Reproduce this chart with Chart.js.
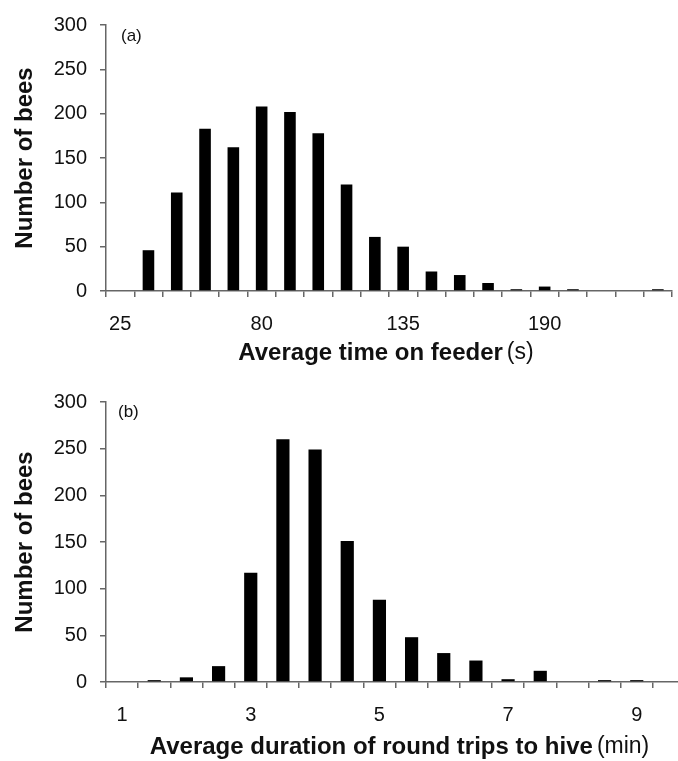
<!DOCTYPE html>
<html>
<head>
<meta charset="utf-8">
<script src="https://cdn.jsdelivr.net/npm/chart.js@4"></script>
<style>
  html, body { margin: 0; padding: 0; background: #fff; overflow: hidden; width: 678px; height: 761px; }
  #wrapA { position: absolute; left: 0; top: 0; width: 678px; height: 370px; }
  #wrapB { position: absolute; left: 0; top: 370px; width: 692px; height: 391px; }
</style>
</head>
<body>
<div id="wrapA"><canvas id="chartA" width="678" height="370"></canvas></div>
<div id="wrapB"><canvas id="chartB" width="692" height="391"></canvas></div>
<script>
// panel (a): average time on feeder, bins of 11 s
const feederBins = ['25', '36', '47', '58', '69', '80', '91', '102', '113', '124',
                    '135', '146', '157', '168', '179', '190', '201', '212', '223', '234'];
const feederBees = [0, 46, 111, 183, 162, 208, 202, 178, 120, 61,
                    50, 22, 18, 9, 2, 5, 2, 0, 0, 2];

// panel (b): average duration of round trips, bins of 0.5 min
const tripBins = ['1', '1.5', '2', '2.5', '3', '3.5', '4', '4.5', '5', '5.5',
                  '6', '6.5', '7', '7.5', '8', '8.5', '9', '9.5'];
const tripBees = [0, 2, 5, 17, 117, 260, 249, 151, 88, 48,
                  31, 23, 3, 12, 0, 2, 2, 0];

const yTicks = [0, 50, 100, 150, 200, 250, 300];

const FONT = '"Liberation Sans", Arial, sans-serif';
const AXIS = '#666';
const INK = '#111';

// draws the x-axis title (bold part + normal unit) and the panel letter
const labelsPlugin = {
    id: 'panelLabels',
    afterDraw(chart, args, opts) {
        const ctx = chart.ctx;
        const area = chart.chartArea;
        ctx.save();
        ctx.fillStyle = INK;
        ctx.textBaseline = 'middle';

        ctx.font = 'bold 24px ' + FONT;
        const wBold = ctx.measureText(opts.bold).width;
        ctx.font = '23px ' + FONT;
        const wNorm = ctx.measureText(opts.unit).width;
        const gap = 4;
        let x = (area.left + area.right) / 2 + opts.shift - (wBold + gap + wNorm) / 2;
        ctx.textAlign = 'left';
        ctx.font = 'bold 24px ' + FONT;
        ctx.fillText(opts.bold, x, opts.titleY);
        ctx.font = '23px ' + FONT;
        ctx.fillText(opts.unit, x + wBold + gap, opts.titleY);

        ctx.font = '17px ' + FONT;
        ctx.fillText(opts.letter, area.left + opts.letterDx, area.top + opts.letterDy);
        ctx.restore();
    }
};

function makeChart(id, labels, values, labelStep, padTop, padRight, opts) {
    const ctx = document.getElementById(id).getContext('2d');
    return new Chart(ctx, {
        type: 'bar',
        data: {
            labels: labels,
            datasets: [{
                data: values,
                backgroundColor: '#000',
                borderWidth: 0,
                barPercentage: 1,
                categoryPercentage: 0.41
            }]
        },
        options: {
            responsive: false,
            animation: false,
            devicePixelRatio: 1,
            layout: { padding: { top: padTop, right: padRight, left: 0, bottom: 0 } },
            plugins: {
                legend: { display: false },
                tooltip: { enabled: false },
                panelLabels: opts
            },
            scales: {
                x: {
                    grid: { offset: true, drawOnChartArea: false, drawTicks: true, tickLength: 6, color: AXIS, lineWidth: 1.5 },
                    border: { color: AXIS, width: 1.5 },
                    ticks: {
                        autoSkip: false,
                        maxRotation: 0,
                        padding: 15,
                        color: INK,
                        font: { family: FONT, size: 20 },
                        callback: function (val, i) { return i % labelStep === 0 ? labels[i] : ''; }
                    },
                    afterFit: function (scale) { scale.height = 79; }
                },
                y: {
                    min: 0,
                    max: 300,
                    afterBuildTicks: function (scale) { scale.ticks = yTicks.map(v => ({ value: v })); },
                    grid: { drawOnChartArea: false, drawTicks: true, tickLength: 6, color: AXIS, lineWidth: 1.5 },
                    border: { color: AXIS, width: 1.5 },
                    ticks: {
                        padding: 13,
                        color: INK,
                        font: { family: FONT, size: 20 }
                    },
                    title: {
                        display: true,
                        text: 'Number of bees',
                        color: INK,
                        font: { family: FONT, size: 24, weight: 'bold' },
                        padding: { top: 11, bottom: 0 }
                    },
                    afterFit: function (scale) { scale.width = 106; }
                }
            }
        },
        plugins: [labelsPlugin]
    });
}

makeChart('chartA', feederBins, feederBees, 5, 19, 6, {
    bold: 'Average time on feeder', unit: '(s)', shift: -3, titleY: 353,
    letter: '(a)', letterDx: 15, letterDy: 11
});

makeChart('chartB', tripBins, tripBees, 4, 32, 7, {
    bold: 'Average duration of round trips to hive', unit: '(min)', shift: 4, titleY: 377,
    letter: '(b)', letterDx: 12, letterDy: 10
});
</script>
</body>
</html>
